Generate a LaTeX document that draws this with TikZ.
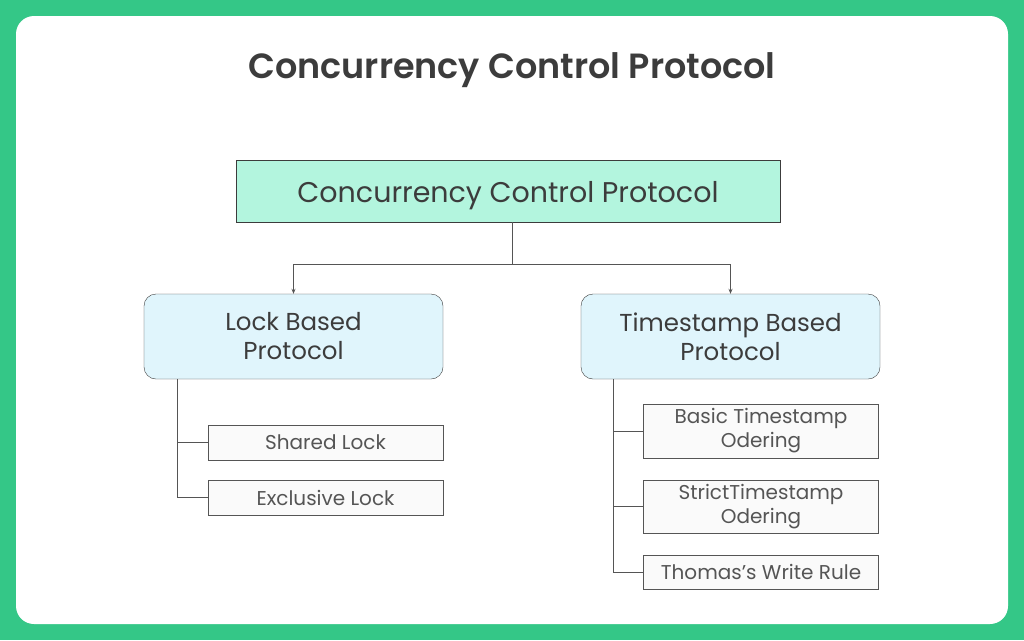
\documentclass[tikz,border=0pt]{standalone}
\usepackage{fontspec}
\setmainfont{Poppins}
\newfontfamily\titlefont{Poppins}[UprightFont=* SemiBold]
\usepackage{tikz}
\usetikzlibrary{positioning}
\usetikzlibrary{arrows.meta}
\usetikzlibrary{calc}
\definecolor{framegreen}{RGB}{52,199,135}
\definecolor{rootmint}{RGB}{179,245,222}
\definecolor{branchblue}{RGB}{224,245,252}
\definecolor{leafgray}{RGB}{250,250,250}
\definecolor{inkgray}{RGB}{60,60,60}
\definecolor{linegray}{RGB}{85,85,85}
\tikzset{root node/.style={rectangle,draw=inkgray,fill=rootmint,minimum width=544pt,minimum height=62pt,inner sep=0pt,text height=23pt,text depth=0pt,text=inkgray,font=\fontsize{28.5}{32}\selectfont},
branch node/.style={rectangle,rounded corners=12pt,draw=inkgray,fill=branchblue,minimum width=299pt,minimum height=85pt,inner sep=0pt,align=center,text=inkgray,font=\fontsize{24.5}{29}\selectfont},
leaf node/.style={rectangle,draw=linegray,fill=leafgray,minimum width=235pt,inner sep=0pt,align=center,text=linegray,font=\fontsize{20}{24}\selectfont},}

\begin{document}
\begin{tikzpicture}[x=1pt, y=-1pt, link/.style={draw=linegray, thick}, >={Stealth[length=5pt,width=4pt]}]
	\fill[framegreen] (0,0) rectangle (1024,640);
	\fill[white, rounded corners=18pt] (16,16) rectangle (1008,624);
	\useasboundingbox (0,0) rectangle (1024,640);

	\node[text=inkgray, font=\titlefont\fontsize{35}{40}\selectfont] (title) at (512,70) {Concurrency Control Protocol};

	\node[root node] (root) at (508,191) {Concurrency Control Protocol};
	\node[branch node] (lock) at (293.5,336.5) {Lock Based\\Protocol};
	\node[branch node] (stamp) at (730.5,336.5) {Timestamp Based\\Protocol};

	\node[leaf node, minimum height=35pt] (shared) at (325.5,442.5) {Shared Lock};
	\node[leaf node, minimum height=35pt] (excl) at (325.5,497.5) {Exclusive Lock};
	\node[leaf node, minimum height=54pt] (basic) at (761,431) {Basic Timestamp\\Odering};
	\node[leaf node, minimum height=53pt] (strict) at (761,506.5) {StrictTimestamp\\Odering};
	\node[leaf node, minimum height=34pt] (thomas) at (761,572) {Thomas’s Write Rule};

	% split under the root
	\coordinate (split) at (512,264);
	\draw[link] (root.south -| split) -- (split);
	\draw[link, ->] (split) -| (lock.north);
	\draw[link, ->] (split) -| (stamp.north);

	% stems of the two branches
	\coordinate (lockstem) at (177,379);
	\coordinate (stampstem) at (613,379);
	\draw[link] (lockstem) |- (shared.west);
	\draw[link] (lockstem) |- (excl.west);
	\draw[link] (stampstem) |- (basic.west);
	\draw[link] (stampstem) |- (strict.west);
	\draw[link] (stampstem) |- (thomas.west);
\end{tikzpicture}
\end{document}
